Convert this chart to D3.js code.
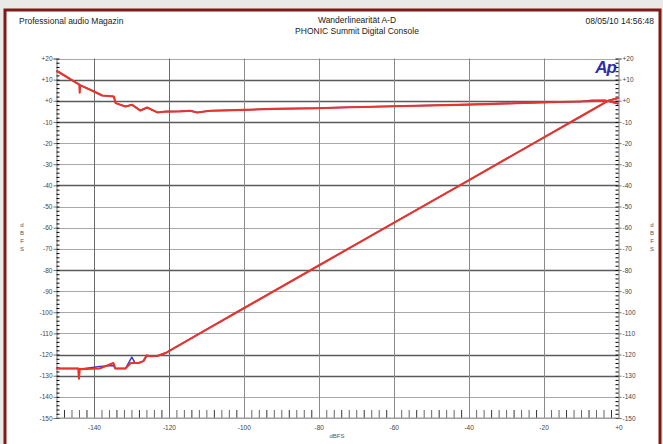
<!DOCTYPE html>
<html>
<head>
<meta charset="utf-8">
<script src="https://cdn.jsdelivr.net/npm/d3@7"></script>
<style>
  html, body { margin: 0; padding: 0; background: #e9e9e7; }
  svg { display: block; font-family: "Liberation Sans", Arial, sans-serif; }
</style>
</head>
<body>
<svg id="chart" width="663" height="444"></svg>
<script>
// Sweep input level (dBFS) vs measured level (dBFS)
const xTicks = [-140, -120, -100, -80, -60, -40, -20, 0];
const yTicks = [20, 10, 0, -10, -20, -30, -40, -50, -60, -70, -80, -90, -100, -110, -120, -130, -140, -150];

// Channel A (red): measured output level
const redLinearity = [
  [-150, -126.6], [-144.2, -126.6], [-144.0, -131.4], [-143.8, -126.9], [-138.5, -126.6],
  [-134.8, -124.0], [-134.3, -126.6], [-131.6, -126.6], [-130.2, -124.0], [-128.1, -124.0],
  [-126.8, -123.1], [-125.9, -120.4], [-124.9, -120.8], [-123.1, -120.7], [-120.9, -119.3],
  [-117.8, -116.1], [-115, -113.3], [-110, -108.2], [-100, -98.1], [-80, -77.9],
  [-60, -57.7], [-40, -37.6], [-20, -17.4], [-10, -7.3], [-2.8, 0], [0, 1.3]
];
// Channel A (red): deviation from the ideal transfer line
const redDeviation = [
  [-150, 14.2], [-143.9, 7.6], [-143.8, 3.8], [-143.7, 7.4], [-140, 4.4], [-137.8, 2.5],
  [-134.7, 2.0], [-134.2, -1.1], [-131.6, -2.7], [-129.8, -1.9], [-127.6, -4.6],
  [-125.8, -3.2], [-123.1, -5.5], [-120.9, -5.1], [-117, -5.0], [-114.3, -4.7],
  [-112.5, -5.5], [-109, -4.7], [-100, -4.3], [-92, -3.8], [-80.5, -3.5], [-74.3, -3.2],
  [-60, -2.6], [-40, -1.8], [-21, -0.8], [-10, -0.3], [-4, 0], [-2.5, -0.2], [0, -1.4]
];
// Channel B (blue): measured output level
const blueLinearity = [
  [-150, -126.6], [-144.2, -126.6], [-143.8, -126.9], [-138.5, -125.7], [-134.8, -125.2],
  [-134.3, -126.6], [-131.6, -126.6], [-129.9, -121.2], [-129.0, -124.0], [-128.1, -124.0],
  [-126.8, -123.1], [-125.9, -120.4], [-124.9, -120.8], [-123.1, -120.7], [-120.9, -119.3],
  [-117.8, -116.1], [-115, -113.3], [-110, -108.2], [-100, -98.1], [-80, -77.9],
  [-60, -57.7], [-40, -37.6], [-20, -17.4], [-10, -7.3], [-2.8, 0], [0, 1.3]
];
// Channel B (blue): deviation from the ideal transfer line
const blueDeviation = [
  [-150, 14.2], [-143.9, 7.6], [-143.7, 7.4], [-140, 4.4], [-137.8, 2.5],
  [-134.7, 2.0], [-134.2, -1.1], [-131.6, -2.7], [-129.8, -1.9], [-127.6, -4.6],
  [-125.8, -3.2], [-123.1, -5.5], [-120.9, -5.1], [-117, -5.0], [-114.3, -4.7],
  [-112.5, -5.5], [-109, -4.7], [-100, -4.3], [-92, -3.8], [-80.5, -3.5], [-74.3, -3.2],
  [-60, -2.6], [-40, -1.8], [-21, -0.8], [-10, -0.3], [-7, 0.3], [-3.5, 0.3], [-2.5, -0.2], [0, -1.4]
];

const svg = d3.select("#chart");

// page frame
svg.append("rect").attr("x", 5).attr("y", 10).attr("width", 655).attr("height", 450)
  .attr("fill", "#ffffff").attr("stroke", "#7c1b17").attr("stroke-width", 3);

// header texts
svg.append("text").attr("x", 19).attr("y", 24).attr("font-size", 8.5).attr("fill", "#1a1a1a")
  .text("Professional audio Magazin");
svg.append("text").attr("x", 357).attr("y", 23).attr("font-size", 8.5).attr("fill", "#1a1a1a")
  .attr("text-anchor", "middle").text("Wanderlinearität A-D");
svg.append("text").attr("x", 357).attr("y", 34).attr("font-size", 8.5).attr("fill", "#1a1a1a")
  .attr("text-anchor", "middle").text("PHONIC Summit Digital Console");
svg.append("text").attr("x", 654).attr("y", 24).attr("font-size", 8.5).attr("fill", "#1a1a1a")
  .attr("text-anchor", "end").text("08/05/10 14:56:48");

const x = d3.scaleLinear().domain([-150, 0]).range([56.5, 618.5]);
const y = d3.scaleLinear().domain([20, -150]).range([58.5, 418]);

const fmt = v => (v > 0 ? "+" + v : v === 0 ? "+0" : String(v));
const darkRows = new Set([10, 0, -10, -40, -80, -120, -130]);

// horizontal grid
svg.append("g").selectAll("line").data(yTicks).join("line")
  .attr("x1", x(-150)).attr("x2", x(0))
  .attr("y1", d => Math.round(y(d)) + 0.5).attr("y2", d => Math.round(y(d)) + 0.5)
  .attr("stroke", d => darkRows.has(d) ? "#5a5a5a" : "#a8a8a8")
  .attr("stroke-width", d => darkRows.has(d) ? 1.3 : 1);

// vertical grid
svg.append("g").selectAll("line").data(xTicks.filter(d => d > -150 && d < 0)).join("line")
  .attr("y1", y(20)).attr("y2", y(-150))
  .attr("x1", d => Math.round(x(d)) + 0.5).attr("x2", d => Math.round(x(d)) + 0.5)
  .attr("stroke", d => d <= -120 ? "#6a6a6a" : "#8a8a8a");

// left / right value axes
const yAxisL = d3.axisLeft(y).tickValues(yTicks).tickSize(3).tickPadding(1).tickFormat(fmt);
const yAxisR = d3.axisRight(y).tickValues(yTicks).tickSize(3).tickPadding(1).tickFormat(fmt);
const minorY = d3.range(-150, 21, 2);

const gL = svg.append("g").attr("transform", `translate(${x(-150)},0)`).call(yAxisL);
const gR = svg.append("g").attr("transform", `translate(${x(0)},0)`).call(yAxisR);
svg.append("g").attr("transform", `translate(${x(-150)},0)`)
  .call(d3.axisRight(y).tickValues(minorY).tickSize(3).tickFormat("")).select(".domain").remove();
svg.append("g").attr("transform", `translate(${x(0)},0)`)
  .call(d3.axisLeft(y).tickValues(minorY).tickSize(3).tickFormat("")).select(".domain").remove();

// bottom axis: labels plus short inward ticks every 2 dB
const xAxis = d3.axisBottom(x).tickValues(xTicks).tickSize(0).tickPadding(7).tickFormat(fmt);
const gB = svg.append("g").attr("transform", `translate(0,${y(-150)})`).call(xAxis);
gB.select(".domain").remove();
const minorX = d3.range(-148, 0, 2).filter(d => d % 20 !== 0);
svg.append("g").attr("transform", `translate(0,${y(-150)})`)
  .call(d3.axisTop(x).tickValues(minorX).tickSize(8).tickFormat(""))
  .call(g => g.selectAll(".tick line").attr("stroke", (d, i) => i % 3 === 0 ? "#333" : "#666"))
  .select(".domain").remove();
svg.append("line").attr("x1", x(-150)).attr("x2", x(0))
  .attr("y1", y(-150)).attr("y2", y(-150)).attr("stroke", "#999");

[gL, gR, gB].forEach(g => {
  g.selectAll("text").attr("font-size", 6.5).attr("fill", "#444").attr("font-family", "Liberation Sans, Arial, sans-serif");
  g.selectAll(".domain").attr("stroke", "#777");
  g.selectAll(".tick line").attr("stroke", "#777");
});

// unit labels
["d", "B", "F", "S"].forEach((ch, i) => {
  svg.append("text").attr("x", 22).attr("y", 227 + i * 8).attr("font-size", 6)
    .attr("fill", "#555").attr("text-anchor", "middle").text(ch);
  svg.append("text").attr("x", 652).attr("y", 227 + i * 8).attr("font-size", 6)
    .attr("fill", "#555").attr("text-anchor", "middle").text(ch);
});
svg.append("text").attr("x", 337).attr("y", 438).attr("font-size", 6)
  .attr("fill", "#555").attr("text-anchor", "middle").text("dBFS");

// Ap logo
svg.append("text").attr("x", 616).attr("y", 73).attr("text-anchor", "end")
  .attr("font-size", 17).attr("font-weight", "bold").attr("font-style", "italic")
  .attr("fill", "#2e2ea8").attr("letter-spacing", -1).text("Ap");

// traces: channel B underneath (thinner), channel A on top
const line = d3.line().x(d => x(d[0])).y(d => y(d[1]));
const traces = svg.append("g").attr("fill", "none").attr("stroke-linejoin", "round");
[[blueLinearity, "#3b3bc4", 1.5], [blueDeviation, "#3b3bc4", 1.5],
 [redLinearity, "#e8352b", 2.1], [redDeviation, "#e8352b", 2.1]]
  .forEach(([data, color, w]) => {
    traces.append("path").datum(data).attr("d", line).attr("stroke", color).attr("stroke-width", w);
  });
</script>
</body>
</html>
